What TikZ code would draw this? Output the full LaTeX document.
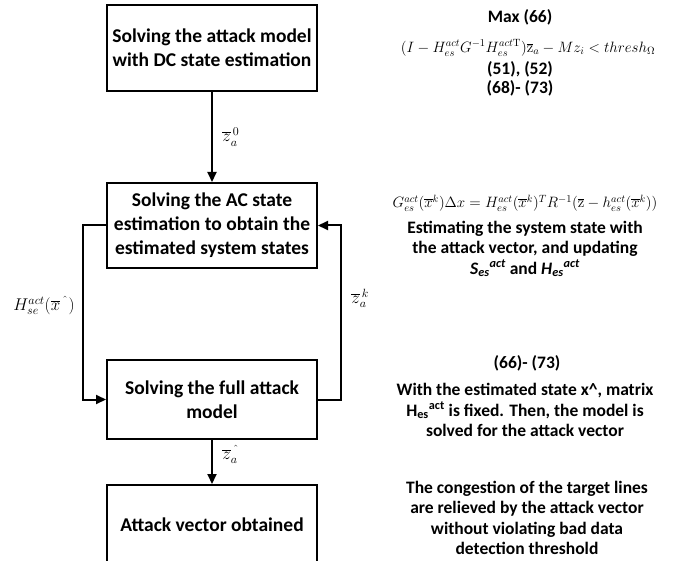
\RequirePackage{fix-cm}
\documentclass[tikz,border=0pt]{standalone}
\usepackage{amssymb}
\usepackage{amsmath}
\usepackage[no-math]{fontspec}
\setmainfont{Carlito}
\usetikzlibrary{positioning, arrows.meta}
\tikzset{
    >={Triangle[length=10pt, width=9pt]}, % filled arrow heads
    block/.style={draw, line width=2pt, minimum width=210pt, minimum height=79pt, align=center, font=\fontsize{19.5}{24}\selectfont\bfseries}, % the boxes of the chart
    flow/.style={->, line width=2pt}, % the connectors between the boxes
    note/.style={align=center, inner sep=1pt, font=\fontsize{17.5}{20.5}\selectfont\bfseries}, % the explanations on the right
    eqn/.style={inner sep=0pt, font=\fontsize{15}{16}\selectfont}, % the equations on the right
    lbl/.style={font=\fontsize{17}{18}\selectfont}, % the labels on the connectors
    node distance=90pt, % gap between two boxes
}

\begin{document}
\begin{tikzpicture}[x=1pt, y=-1pt]
    \useasboundingbox (0,0) rectangle (679,561);
    \node[block, minimum height=86pt] (dc) at (212,48) {Solving the attack model\\with DC state estimation};
    \node[block, minimum height=85pt, below=of dc] (ac) {Solving the AC state\\estimation to obtain the\\estimated system states};
    \node[block, below=of ac] (full) {Solving the full attack\\model};
    \node[block, below=44pt of full] (vec) {Attack vector obtained};
    \draw[flow] (dc) -- node[lbl, right=6pt]{$\overline{z}_a^{\,0}$} (ac);
    \draw[flow] (ac.west) -- ++(-23,0) |- node[lbl, pos=0.23, left=4pt]{$H_{se}^{act}(\overline{x}^{\,\textasciicircum})$} (full.west);
    \draw[flow] (full.east) -- ++(23,0) |- node[lbl, pos=0.29, right=6pt]{$\overline{z}_a^{\,k}$} (ac.east);
    \draw[flow] (full) -- node[lbl, pos=0.33, right=6pt]{$\overline{z}_a^{\,\textasciicircum}$} (vec);
    % notes on the right
    \node[note] (max) at (520,17) {Max (66)};
    \node[eqn] (bdd) at (528,48) {$(I-H_{es}^{act}G^{-1}H_{es}^{act\mathrm{T}})\overline{\mathrm{z}}_a-Mz_i<thresh_\Omega$};
    \node[note, font=\fontsize{17.5}{19}\selectfont\bfseries] (cons) at (520,79) {(51), (52)\\(68)- (73)};
    \node[eqn] (wls) at (525,203) {$G_{es}^{act}(\overline{x}^k)\Delta x=H_{es}^{act}(\overline{x}^k)^TR^{-1}(\overline{\mathrm{z}}-h_{es}^{act}(\overline{x}^k))$};
    \node[note] (est) at (525,249) {Estimating the system state with\\the attack vector, and updating\\\textit{S\textsubscript{es}\textsuperscript{act}} and \textit{H\textsubscript{es}\textsuperscript{act}}};
    \node[note] (eqs) at (527,363) {(66)- (73)};
    \node[note] (fix) at (525,410) {With the estimated state x\textasciicircum, matrix\\H\textsubscript{es}\textsuperscript{act} is fixed. Then, the model is\\solved for the attack vector};
    \node[note] (res) at (527,518) {The congestion of the target lines\\are relieved by the attack vector\\without violating bad data\\detection threshold};
\end{tikzpicture}
\end{document}
